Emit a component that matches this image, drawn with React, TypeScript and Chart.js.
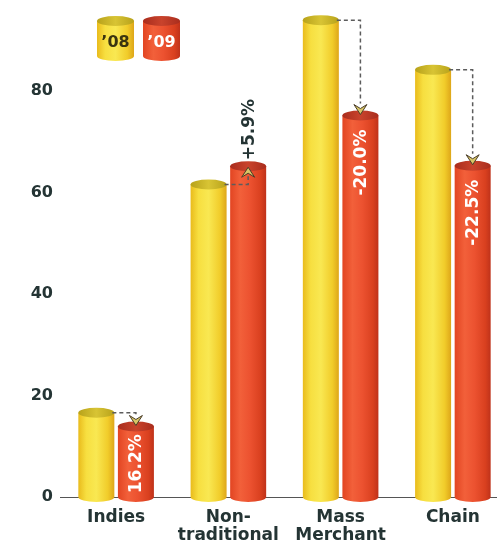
import React, { useEffect, useRef } from "react";
import { Chart, registerables } from "chart.js";

Chart.register(...registerables);

const categories: (string | string[])[] = ["Indies", ["Non-", "traditional"], ["Mass", "Merchant"], "Chain"];
const seriesNames = ["\u201908", "\u201909"];
const values08 = [16.6, 61.6, 94.0, 84.2];
const values09 = [13.9, 65.2, 75.2, 65.3];
const changeLabels = ["16.2%", "+5.9%", "-20.0%", "-22.5%"];
const yTicks = [0, 20, 40, 60, 80];

const FONT = "DejaVu Sans";
const TEXT = "#243434";

const palettes = [
  {
    stops: [[0, "#e9bb1c"], [0.22, "#f7df40"], [0.5, "#f9e852"], [0.82, "#f1cc2a"], [1, "#dea619"]],
    top: ["#b8a21a", "#d8c434"],
  },
  {
    stops: [[0, "#e24522"], [0.28, "#f2603a"], [0.55, "#ec5230"], [0.85, "#d9401f"], [1, "#bf321a"]],
    top: ["#a92d1d", "#c9432c"],
  },
];

function drawCylinder(ctx: CanvasRenderingContext2D, left: number, top: number, w: number, bottom: number, pal: any) {
  const ry = 5;
  const cx = left + w / 2;
  const g = ctx.createLinearGradient(left, 0, left + w, 0);
  pal.stops.forEach((s: any) => g.addColorStop(s[0], s[1]));
  ctx.save();
  ctx.beginPath();
  ctx.moveTo(left, top);
  ctx.lineTo(left, bottom);
  ctx.ellipse(cx, bottom, w / 2, ry, 0, Math.PI, 0, true);
  ctx.lineTo(left + w, top);
  ctx.closePath();
  ctx.fillStyle = g;
  ctx.fill();
  const tg = ctx.createLinearGradient(left, 0, left + w, 0);
  tg.addColorStop(0, pal.top[0]);
  tg.addColorStop(0.5, pal.top[1]);
  tg.addColorStop(1, pal.top[0]);
  ctx.beginPath();
  ctx.ellipse(cx, top, w / 2, ry, 0, 0, Math.PI * 2);
  ctx.fillStyle = tg;
  ctx.fill();
  ctx.restore();
}

function drawArrowHead(ctx: CanvasRenderingContext2D, x: number, tipY: number, dir: number) {
  const h = 10;
  const hw = 6.5;
  ctx.save();
  ctx.beginPath();
  ctx.moveTo(x, tipY);
  ctx.lineTo(x - hw, tipY - dir * h);
  ctx.lineTo(x, tipY - dir * h * 0.6);
  ctx.lineTo(x + hw, tipY - dir * h);
  ctx.closePath();
  ctx.fillStyle = "#d8c566";
  ctx.strokeStyle = "#4a3d28";
  ctx.lineWidth = 1;
  ctx.fill();
  ctx.stroke();
  ctx.restore();
}

const cylinderPlugin = {
  id: "cylinders",
  afterDatasetsDraw(chart: any) {
    const ctx: CanvasRenderingContext2D = chart.ctx;
    const metas = [chart.getDatasetMeta(0), chart.getDatasetMeta(1)];
    metas.forEach((meta: any, di: number) => {
      meta.data.forEach((bar: any) => {
        const p = bar.getProps(["x", "y", "base", "width"], true);
        drawCylinder(ctx, p.x - p.width / 2, p.y, p.width, p.base, palettes[di]);
      });
    });

    categories.forEach((_, i) => {
      const a = metas[0].data[i].getProps(["x", "y", "base", "width"], true);
      const b = metas[1].data[i].getProps(["x", "y", "base", "width"], true);
      const up = values09[i] >= values08[i];
      ctx.save();
      ctx.setLineDash([4, 3]);
      ctx.strokeStyle = "#5c5c5c";
      ctx.lineWidth = 1.5;
      ctx.beginPath();
      ctx.moveTo(a.x + a.width / 2 - 2, a.y);
      ctx.lineTo(b.x, a.y);
      if (up) ctx.lineTo(b.x, b.y + 10);
      else ctx.lineTo(b.x, b.y - 12);
      ctx.stroke();
      ctx.restore();
      if (up) drawArrowHead(ctx, b.x, b.y + 1, -1);
      else drawArrowHead(ctx, b.x, b.y - 1, 1);

      ctx.save();
      ctx.font = `bold 17px "${FONT}"`;
      ctx.textBaseline = "middle";
      const tw = ctx.measureText(changeLabels[i]).width;
      ctx.translate(b.x + 1, 0);
      if (up) {
        ctx.fillStyle = TEXT;
        ctx.translate(0, b.y - 6);
        ctx.rotate(-Math.PI / 2);
        ctx.textAlign = "left";
        ctx.fillText(changeLabels[i], 0, 0);
      } else {
        ctx.fillStyle = "#ffffff";
        const anchor = b.y + 14;
        if (anchor + tw > b.base - 4) {
          ctx.translate(0, (b.y + b.base) / 2 + 2);
          ctx.rotate(-Math.PI / 2);
          ctx.textAlign = "center";
        } else {
          ctx.translate(0, anchor);
          ctx.rotate(-Math.PI / 2);
          ctx.textAlign = "right";
        }
        ctx.fillText(changeLabels[i], 0, 0);
      }
      ctx.restore();
    });

    const legendLeft = [97, 143];
    seriesNames.forEach((name, di) => {
      drawCylinder(ctx, legendLeft[di], 21, 37, 56, palettes[di]);
      ctx.save();
      ctx.font = `bold 16px "${FONT}"`;
      ctx.textAlign = "center";
      ctx.textBaseline = "middle";
      ctx.fillStyle = di === 0 ? "#3a3410" : "#ffffff";
      ctx.fillText(name, legendLeft[di] + 18.5, 43);
      ctx.restore();
    });
  },
};

export default function App() {
  const ref = useRef<HTMLCanvasElement>(null);
  useEffect(() => {
    if (!ref.current) return;
    const chart = new Chart(ref.current, {
      type: "bar",
      data: {
        labels: categories as any,
        datasets: [
          { label: seriesNames[0], data: values08, backgroundColor: "rgba(0,0,0,0)", categoryPercentage: 0.705, barPercentage: 0.91 },
          { label: seriesNames[1], data: values09, backgroundColor: "rgba(0,0,0,0)", categoryPercentage: 0.705, barPercentage: 0.91 },
        ],
      },
      options: {
        responsive: false,
        animation: false,
        devicePixelRatio: 1,
        layout: { padding: { top: 10, left: 0, right: 0, bottom: 0 } },
        plugins: { legend: { display: false }, tooltip: { enabled: false } },
        scales: {
          x: {
            grid: { display: false, drawTicks: false },
            border: { display: true, color: "#555", width: 1 },
            ticks: {
              color: TEXT,
              padding: 12,
              font: { family: FONT, weight: "bold", size: 17, lineHeight: 1.05 },
              maxRotation: 0,
              autoSkip: false,
            },
            afterFit: (s: any) => {
              s.height = 49;
              s.paddingLeft = 0;
              s.paddingRight = 0;
            },
          },
          y: {
            min: 0,
            max: 96,
            grid: { display: false, drawTicks: false },
            border: { display: false },
            ticks: {
              stepSize: 20,
              color: TEXT,
              padding: 7,
              font: { family: FONT, weight: "bold", size: 16 },
            },
            afterBuildTicks: (s: any) => {
              s.ticks = yTicks.map((v) => ({ value: v }));
            },
            afterFit: (s: any) => {
              s.width = 60;
              s.paddingTop = 0;
              s.paddingBottom = 0;
            },
          },
        },
      } as any,
      plugins: [cylinderPlugin],
    });
    return () => chart.destroy();
  }, []);
  return (
    <div style={{ position: "absolute", left: 0, top: 0, width: 509, height: 546 }}>
      <canvas ref={ref} width={509} height={546} style={{ width: 509, height: 546 }} />
    </div>
  );
}
